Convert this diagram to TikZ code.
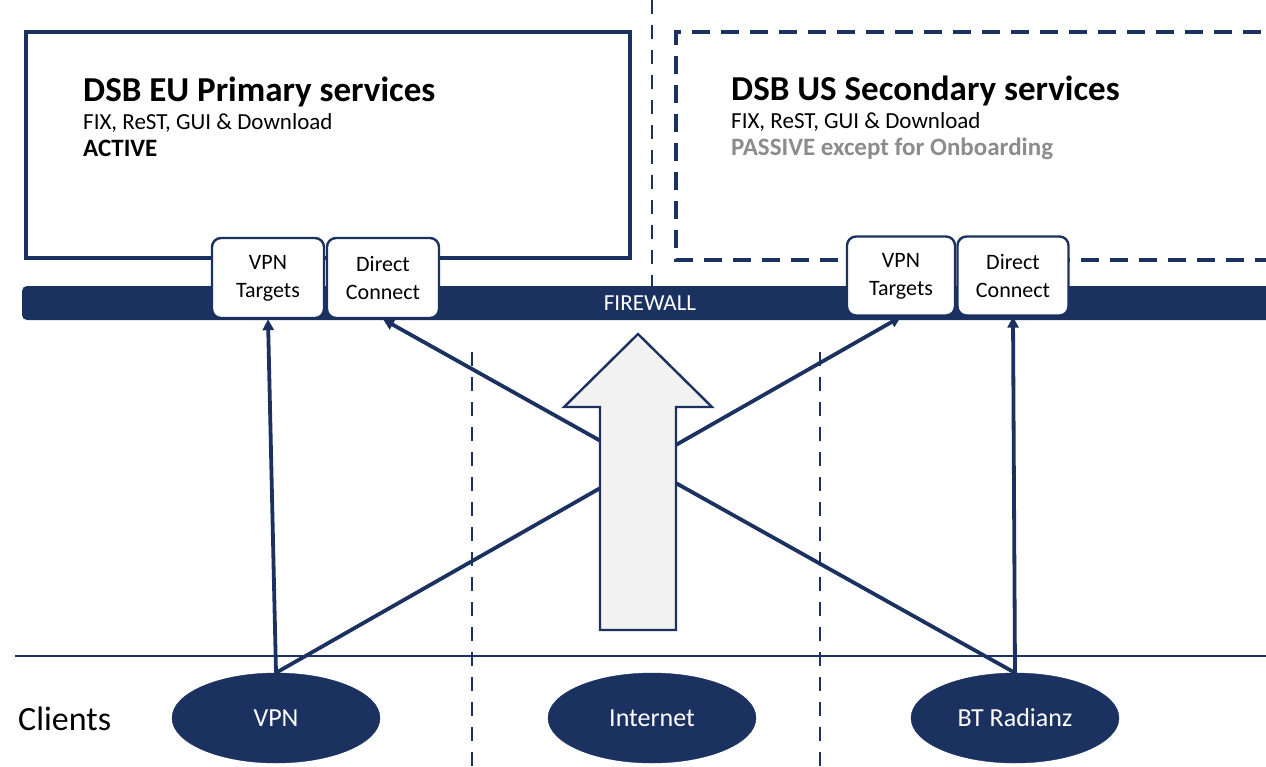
\documentclass[tikz,border=0pt]{standalone}
\usepackage{fontspec}
\setmainfont{Carlito}
\usetikzlibrary{arrows.meta,shapes.geometric}
\definecolor{navy}{HTML}{1B3160}
\definecolor{passive}{HTML}{8C8C8C}
\definecolor{arrowfill}{HTML}{F2F2F2}
\tikzset{
  navline/.style={draw=navy, line width=3pt},
  target/.style={draw=navy, fill=white, line width=2.4pt, rounded corners=9pt, align=center,
    minimum width=112pt, minimum height=80pt, inner sep=0pt, font=\fontsize{22}{28}\selectfont},
  client/.style={ellipse, fill=navy, draw=navy, text=white, minimum width=208pt, minimum height=90pt,
    inner sep=0pt, font=\fontsize{26}{30}\selectfont},
  link/.style={draw=navy, line width=3.8pt, -{Triangle[length=11pt,width=11pt]}},
  sep/.style={draw=navy, line width=2.8pt, dash pattern=on 14pt off 11pt},
  ttl/.style={anchor=base west, inner sep=0pt, font=\bfseries\fontsize{35}{40}\selectfont},
  sub/.style={anchor=base west, inner sep=0pt, font=\fontsize{23}{26}\selectfont},
  subb/.style={anchor=base west, inner sep=0pt, font=\bfseries\fontsize{25}{28}\selectfont}
}
\begin{document}
\begin{tikzpicture}[x=1pt,y=-1pt]
\useasboundingbox (0,0) rectangle (1266,766);
% separators
\draw[sep] (652,0) -- (652,288);
\draw[sep] (472,352) -- (472,766);
\draw[sep] (820,352) -- (820,766);
% service boxes
\draw[navline, line width=3.4pt] (26,32) rectangle (630,258);
\draw[draw=navy, line width=3.4pt, dash pattern=on 18pt off 11pt] (1290,32) -- (676,32) -- (676,260) -- (1290,260);
\node[ttl] (eut) at (83,101) {DSB EU Primary services};
\node[sub] (eus) at (83,129) {FIX, ReST, GUI \& Download};
\node[subb] (eua) at (83,156) {ACTIVE};
\node[ttl] (ust) at (731,100) {DSB US Secondary services};
\node[sub] (uss) at (731,128) {FIX, ReST, GUI \& Download};
\node[subb, text=passive] (usp) at (731,155) {PASSIVE except for Onboarding};
% firewall
\fill[navy, rounded corners=5pt] (22,286) rectangle (1300,320);
\node[text=white, font=\fontsize{23}{26}\selectfont, inner sep=0pt] (fw) at (650,303) {FIREWALL};
% targets
\node[target] (euvpn) at (268,278) {VPN\\Targets};
\node[target] (eudc) at (383,278) {Direct\\Connect};
\node[target, minimum width=108pt, minimum height=79pt] (usvpn) at (901,276) {VPN\\Targets};
\node[target, minimum width=111pt, minimum height=79pt] (usdc) at (1013,276) {Direct\\Connect};
% clients line
\draw[navy, line width=1.5pt] (15,656) -- (1266,656);
\node[anchor=base west, inner sep=0pt, font=\fontsize{34}{38}\selectfont] (cl) at (18,730) {Clients};
\node[client] (vpn) at (276,718) {VPN};
\node[client] (inet) at (652,718) {Internet};
\node[client] (bt) at (1015,718) {BT Radianz};
% links
\draw[link] (vpn.north) -- (euvpn.south);
\draw[link] (vpn.north) -- (usvpn.south);
\draw[link] (bt.north) -- (eudc.south);
\draw[link] (bt.north) -- (usdc.south);
% big arrow
\draw[draw=navy, fill=arrowfill, line width=2.4pt, line join=miter]
  (600,630) -- (600,407) -- (564,407) -- (638,334) -- (712,407) -- (676,407) -- (676,630) -- cycle;
\end{tikzpicture}
\end{document}
